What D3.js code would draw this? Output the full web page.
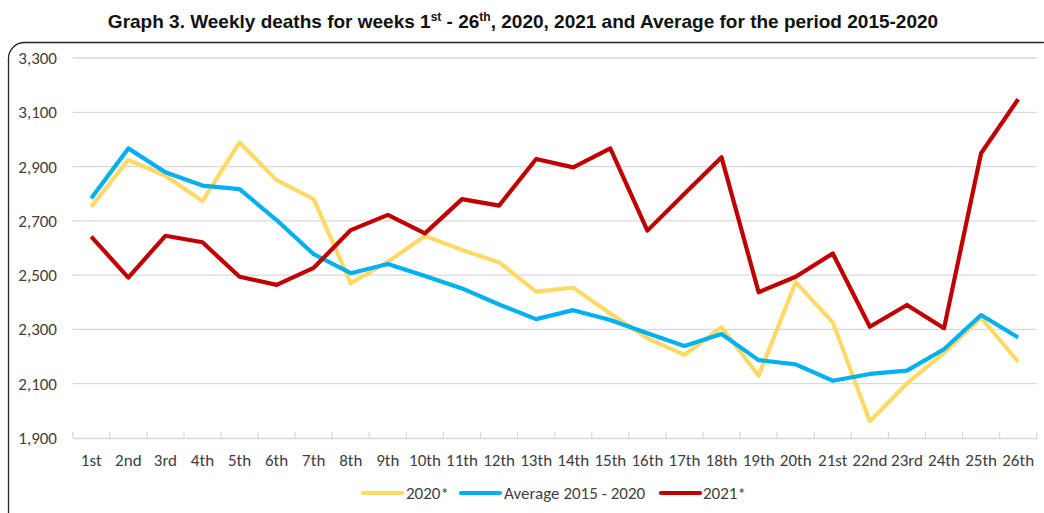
<!DOCTYPE html>
<html><head><meta charset="utf-8">
<script src="https://cdn.jsdelivr.net/npm/d3@7"></script>
<style>body{margin:0;background:#fff;}svg{display:block;}</style>
</head><body>
<script>
const weeks = ["1st","2nd","3rd","4th","5th","6th","7th","8th","9th","10th","11th","12th","13th","14th","15th","16th","17th","18th","19th","20th","21st","22nd","23rd","24th","25th","26th"];
const deaths2020 = [2752,2924,2866,2773,2989,2850,2780,2470,2549,2644,2593,2547,2439,2454,2359,2267,2206,2308,2129,2474,2326,1962,2101,2214,2343,2181];
const average1520 = [2783,2967,2879,2830,2817,2703,2577,2507,2541,2497,2451,2392,2338,2371,2335,2286,2239,2283,2187,2171,2111,2136,2148,2227,2353,2270];
const deaths2021 = [2642,2491,2645,2621,2494,2464,2527,2666,2722,2654,2780,2756,2928,2897,2967,2664,2800,2934,2437,2494,2580,2310,2390,2304,2949,3148];
const yTicks = [1900,2100,2300,2500,2700,2900,3100,3300];
const seriesNames = ["2020*","Average 2015 - 2020","2021*"];
const seriesColors = ["#FFD966","#00B0F0","#C00000"];

const W=1044,H=513;
const svg=d3.select("body").append("svg").attr("width",W).attr("height",H);
// frame
svg.append("rect").attr("x",8.5).attr("y",42.5).attr("width",1050).attr("height",485)
  .attr("rx",16).attr("fill","none").attr("stroke","#222").attr("stroke-width",1.3);

// title
const t=svg.append("text").attr("x",523).attr("y",28).attr("text-anchor","middle")
  .attr("font-family","Liberation Sans, Arial, sans-serif").attr("font-weight","bold")
  .attr("font-size",19).attr("fill","#111");
t.append("tspan").text("Graph 3. Weekly deaths for weeks 1");
t.append("tspan").attr("font-size",12).attr("dy",-7).text("st");
t.append("tspan").attr("dy",7).text(" - 26");
t.append("tspan").attr("font-size",12).attr("dy",-7).text("th");
t.append("tspan").attr("dy",7).text(", 2020, 2021 and Average for the period 2015-2020");

const x=d3.scaleBand().domain(weeks).range([72.7,1036.7]);
const y=d3.scaleLinear().domain([1900,3300]).range([438,58]);
const font="Carlito, Lato, 'Open Sans', sans-serif";
const fs=17;

// grid
svg.append("g").selectAll("line").data(yTicks.slice(1)).join("line")
  .attr("x1",72.7).attr("x2",1036.7).attr("y1",d=>y(d)).attr("y2",d=>y(d))
  .attr("stroke","#d9d9d9").attr("stroke-width",1.3);

// y axis labels
const ya=svg.append("g").attr("transform","translate(57,0)")
  .call(d3.axisLeft(y).tickValues(yTicks).tickFormat(d3.format(",")).tickSize(0).tickPadding(0));
ya.select(".domain").remove();
ya.selectAll("text").attr("font-family",font).attr("font-size",fs).attr("fill","#404040");

// x axis
const xa=svg.append("g").attr("transform","translate(0,438)")
  .call(d3.axisBottom(x).tickSizeOuter(0).tickSize(0).tickPadding(16));
xa.select(".domain").attr("stroke","#d9d9d9").attr("stroke-width",1.3);
xa.selectAll("text").attr("font-family",font).attr("font-size",fs).attr("fill","#404040");
svg.append("g").selectAll("line").data(d3.range(27)).join("line")
  .attr("x1",i=>72.7+i*x.step()).attr("x2",i=>72.7+i*x.step())
  .attr("y1",432).attr("y2",438).attr("stroke","#d9d9d9").attr("stroke-width",1.3);

const line=d3.line().x((d,i)=>x(weeks[i])+x.bandwidth()/2).y(d=>y(d));
[deaths2020,average1520,deaths2021].forEach((s,k)=>{
  svg.append("path").datum(s).attr("d",line).attr("fill","none")
    .attr("stroke",seriesColors[k]).attr("stroke-width",4.2).attr("stroke-linejoin","round");
});

// legend
const leg=[{x:363,tx:406},{x:461,tx:504},{x:661,tx:703}];
leg.forEach((l,k)=>{
  svg.append("line").attr("x1",l.x).attr("x2",l.x+39).attr("y1",493).attr("y2",493)
    .attr("stroke",seriesColors[k]).attr("stroke-width",4.2).attr("stroke-linecap","round");
  svg.append("text").attr("x",l.tx).attr("y",499).attr("font-family",font).attr("font-size",fs)
    .attr("fill","#404040").text(seriesNames[k]);
});
</script>
</body></html>
